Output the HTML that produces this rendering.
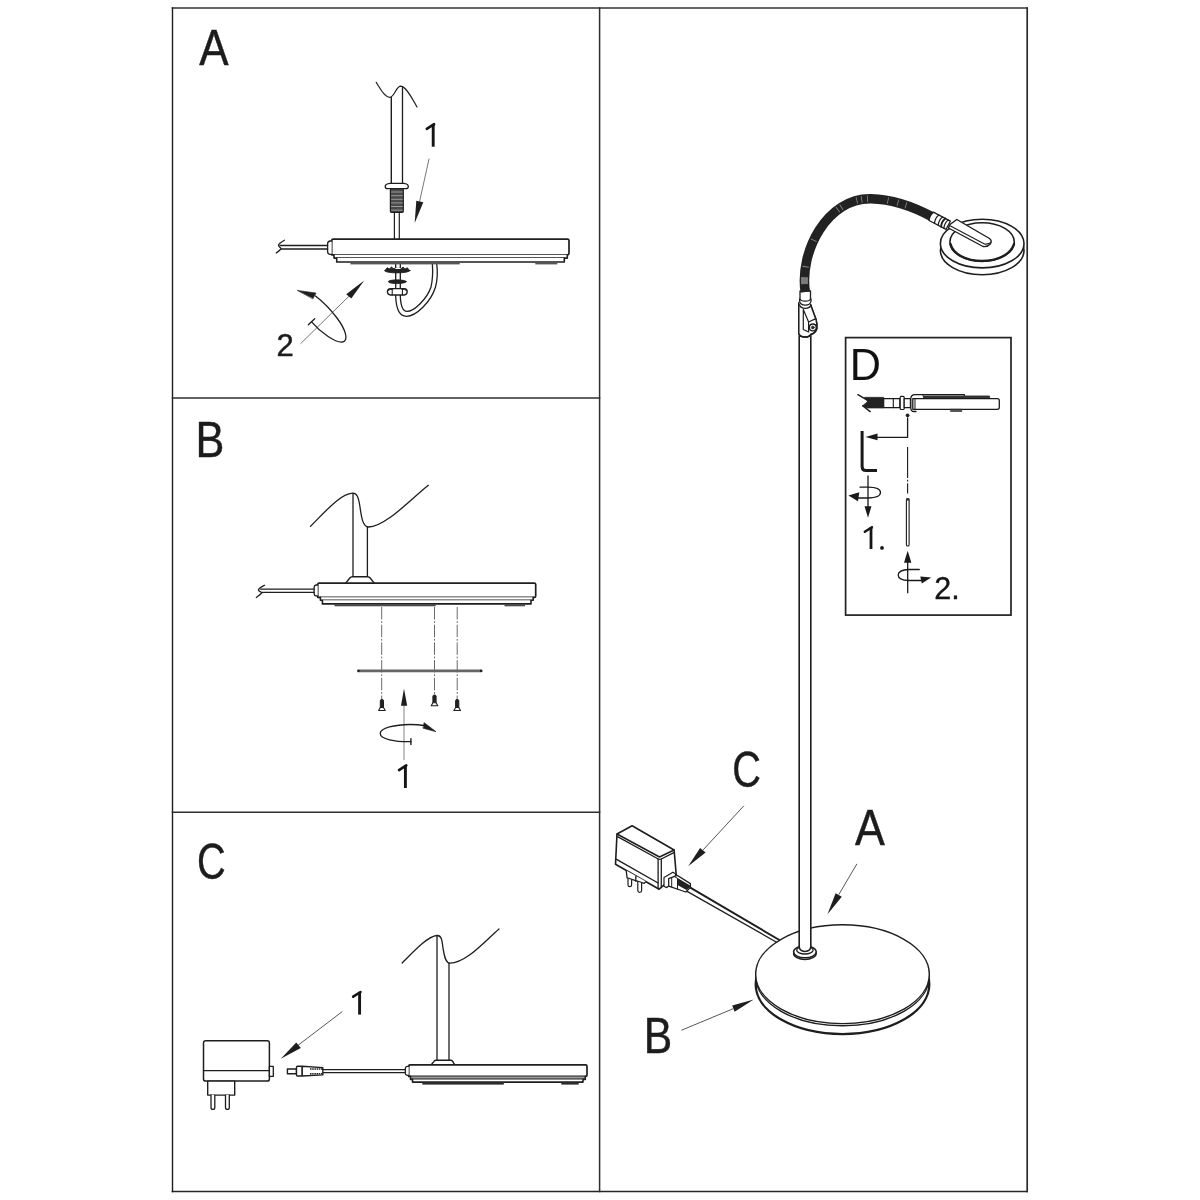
<!DOCTYPE html>
<html>
<head>
<meta charset="utf-8">
<style>
html,body{margin:0;padding:0;background:#fff;width:1200px;height:1200px;overflow:hidden;}
svg{display:block;filter:grayscale(1);}
text{font-family:"Liberation Sans",sans-serif;fill:#1c1c1c;}
</style>
</head>
<body>
<svg width="1200" height="1200" viewBox="0 0 1200 1200">
<rect x="0" y="0" width="1200" height="1200" fill="#fff"/>
<!-- FRAME -->
<g fill="none" stroke-linecap="square">
<line x1="172.5" y1="8" x2="1027.2" y2="8" stroke="#333" stroke-width="1.6"/>
<line x1="172.5" y1="1191.5" x2="1027.2" y2="1191.5" stroke="#262626" stroke-width="1.6"/>
<line x1="172.5" y1="8" x2="172.5" y2="1191.5" stroke="#1e1e1e" stroke-width="1.4"/>
<line x1="1027.2" y1="8" x2="1027.2" y2="1191.5" stroke="#2a2a2a" stroke-width="1.7"/>
<line x1="599.6" y1="8" x2="599.6" y2="1191.5" stroke="#2e2e2e" stroke-width="1.5"/>
<line x1="172.5" y1="397.9" x2="599.6" y2="397.9" stroke="#2e2e2e" stroke-width="1.5"/>
<line x1="172.5" y1="812.2" x2="599.6" y2="812.2" stroke="#2e2e2e" stroke-width="1.5"/>
</g>
<!-- LABELS -->
<g id="labels" stroke="#1c1c1c" stroke-width="0.45">
<text transform="translate(199.2,65.4) scale(0.88,1)" font-size="50">A</text>
<text transform="translate(195.4,456.5) scale(0.864,1)" font-size="50">B</text>
<text transform="translate(197,878.5) scale(0.794,1)" font-size="50">C</text>
<text transform="translate(732.2,787) scale(0.794,1)" font-size="50">C</text>
<text transform="translate(854.9,845) scale(0.894,1)" font-size="50">A</text>
<text transform="translate(643.8,1052.7) scale(0.853,1)" font-size="50">B</text>
</g>
<g id="panelA" stroke="#1e1e1e" fill="none" stroke-linecap="round" stroke-linejoin="round">
<!-- pole -->
<path d="M376.2,82.3 C381,90 385,97.3 389.8,97.3 C394.5,97.3 396,86.2 400.8,86.2 C405.5,86.4 411,96 417,107" stroke-width="1.2"/>
<line x1="391.3" y1="97.3" x2="391.3" y2="183.5" stroke-width="1.4"/>
<line x1="402.5" y1="87" x2="402.5" y2="183.5" stroke-width="1.3"/>
<!-- collar -->
<path d="M390.2,183.3 H403.7 Q408.3,183.8 408.3,186.4 Q408.3,188.7 405.8,188.7 H387.7 Q385.2,188.7 385.2,186.4 Q385.2,183.8 390.2,183.3 Z" fill="#fff" stroke-width="1.3"/>
<!-- thread -->
<rect x="390.4" y="188.7" width="12.9" height="23.6" rx="1" fill="#4a4a4a" stroke-width="1.2"/>
<g stroke="#9a9a9a" stroke-width="1">
<line x1="391.5" y1="192" x2="402.3" y2="192"/>
<line x1="391.5" y1="195.7" x2="402.3" y2="195.7"/>
<line x1="391.5" y1="199.3" x2="402.3" y2="199.3"/>
<line x1="391.5" y1="202.9" x2="402.3" y2="202.9"/>
<line x1="391.5" y1="206.5" x2="402.3" y2="206.5"/>
<line x1="391.5" y1="210.2" x2="402.3" y2="210.2"/>
</g>
<!-- lower rod -->
<line x1="394.4" y1="212.3" x2="394.4" y2="239" stroke-width="1.2"/>
<line x1="399.3" y1="212.3" x2="399.3" y2="239" stroke-width="1.2"/>
<!-- leader 1 -->
<line x1="429" y1="159" x2="419.6" y2="201.5" stroke="#555" stroke-width="0.8"/>
<path d="M416.3,200.7 L423.3,202.3 L414.7,223 Z" fill="#1e1e1e" stroke="none"/>
<!-- base -->
<path d="M331.7,240.6 Q331.7,239.1 333.2,239.1 H567.5 Q569,239.1 569,240.6 V253.3 Q569,254.8 567.5,254.8 H331.7 Z" fill="#fff" stroke-width="1.7"/>
<path d="M331.7,241 H329.8 Q327.6,241.5 327.6,244 V251.5 Q327.6,254 329.8,254.3 H331.7" fill="#fff" stroke-width="1.3"/>
<path d="M334,254.8 V258.1 H567.3 V254.8" fill="#fff" stroke-width="1.6"/>
<path d="M336.7,258.1 V262 H564.3 V258.1" fill="#fff" stroke-width="1.6"/>
<rect x="350.4" y="262" width="109.3" height="2.4" fill="#555" stroke="none"/>
<rect x="535.3" y="262" width="22" height="2.4" fill="#555" stroke="none"/>
<!-- left cable -->
<line x1="280" y1="245.5" x2="327.6" y2="245.5" stroke-width="1.3"/>
<line x1="281.6" y1="249" x2="327.6" y2="249" stroke-width="1.3"/>
<path d="M284.4,240.3 C281.3,242 278.5,243.6 278.5,245.3 C278.5,246.8 280.8,247.8 281.2,248.8 C279.6,250.5 278,251.8 276.2,253" stroke-width="1.3"/>
<!-- under-base rod + cable tube -->
<path d="M395.7,264.6 V296 C396,306 398,316.3 406.5,316.3 C416,316.3 431,302 435.5,287 C437.6,279 437.5,270 436.8,264.6" stroke-width="1.3"/>
<path d="M400.3,264.6 V296 C400.6,304 402.3,311.4 407,311.4 C414,311.4 427,299 431,287 C432.8,279 432.8,270 432.4,264.6" stroke-width="1.3"/>
<!-- washers -->
<ellipse cx="397.3" cy="270.6" rx="12.8" ry="2.3" fill="#222" stroke-width="0.8"/>
<path d="M386,269 l1.5,-1.3 l1.5,1.3 M390,268.4 l1.5,-1.4 l1.5,1.4 M401.5,268.4 l1.5,-1.4 l1.5,1.4 M405.5,269 l1.5,-1.3 l1.5,1.3" fill="#222" stroke-width="0.9"/>
<line x1="395.7" y1="268.5" x2="400.3" y2="268.5" stroke="#fff" stroke-width="1"/>
<ellipse cx="397.3" cy="281.7" rx="9" ry="1.9" fill="#222" stroke-width="0.8"/>
<path d="M390.5,288.6 H404.3 Q407.2,288.8 407.2,291.8 Q407.2,294.8 404.3,295 H390.5 Q387.4,294.8 387.4,291.8 Q387.4,288.8 390.5,288.6 Z" fill="#fff" stroke-width="1.3"/>
<path d="M387.6,290.6 Q390,289.2 393,289 M407,290.6 Q404.6,289.2 401.6,289" stroke-width="1"/>
<line x1="392.2" y1="289" x2="392.2" y2="294.8" stroke-width="1.1"/>
<line x1="402.4" y1="289" x2="402.4" y2="294.8" stroke-width="1.1"/>
<!-- rotation arrow 2 -->
<line x1="300.8" y1="343.5" x2="349" y2="296.2" stroke="#555" stroke-width="0.8"/>
<path d="M346.2,294.2 L351.3,298.4 L364.2,280.4 Z" fill="#1e1e1e" stroke="none"/>
<line x1="308.3" y1="324.7" x2="314.7" y2="318.8" stroke-width="1.3"/>
<path d="M311.6,321.8 C321,333 336,343 342.4,342 C349,341 346,330 337,318 C331,310 324,302.5 315.5,296" stroke-width="1.3"/>
<path d="M297.5,290.4 L316,293 L313,298.6 Z" fill="#1e1e1e" stroke="#1e1e1e" stroke-width="0.6"/>
<!-- numbers -->
<text transform="translate(276.5,355.6)" font-size="31" stroke="#1c1c1c" stroke-width="0.45">2</text>
</g>

<g transform="translate(433.2,146.7)"><path d="M0,0 V-21.6" stroke="#151515" stroke-width="2.9" fill="none"/><path d="M0.9,-22.6 L-6.4,-17.9" stroke="#151515" stroke-width="2.6" stroke-linecap="round" fill="none"/><rect x="-1.45" y="-22.7" width="2.9" height="2" fill="#151515"/></g>
<!--PANEL_A-->
<g id="panelB" stroke="#1e1e1e" fill="none" stroke-linecap="round" stroke-linejoin="round">
<path d="M310.5,526.3 C325,512 340,494 352.5,493.2 C357,493 358.5,497 360,507 C361.5,518 363,527 368.5,527 C385,527 410,500 428.3,485.3" stroke-width="1.3"/>
<line x1="353" y1="493.5" x2="353" y2="577" stroke-width="1.3"/>
<line x1="367.4" y1="527" x2="367.4" y2="577" stroke-width="1.3"/>
<!-- collar -->
<path d="M345.9,582.9 L349.8,578 Q350.8,576.7 352.5,576.7 H367.5 Q369.2,576.7 370.2,578 L374,582.9" fill="#fff" stroke-width="1.4"/>
<!-- base -->
<path d="M317.7,584.5 Q317.7,583.1 319.1,583.1 H534.3 Q535.7,583.1 535.7,584.5 V595.9 Q535.7,597.3 534.3,597.3 H317.7 Z" fill="#fff" stroke-width="1.7"/>
<path d="M317.7,585 H316 Q314.1,585.4 314.1,587.5 V593.5 Q314.1,595.6 316,595.9 H317.7" fill="#fff" stroke-width="1.3"/>
<path d="M320.4,597.3 V600.2 H533.2 V597.3" fill="#fff" stroke-width="1.6"/>
<path d="M322.4,600.2 V603.9 H531 V600.2" fill="#fff" stroke-width="1.6"/>
<rect x="334.5" y="603.9" width="101.2" height="2.4" fill="#4a4a4a" stroke="none"/>
<rect x="504.5" y="603.9" width="20.6" height="2.4" fill="#4a4a4a" stroke="none"/>
<!-- cable -->
<line x1="260.6" y1="589.1" x2="314.1" y2="589.1" stroke-width="1.3"/>
<line x1="262.2" y1="592.3" x2="314.1" y2="592.3" stroke-width="1.3"/>
<path d="M264.5,585.2 C261.5,586.9 258.4,588.5 258.4,590 C258.4,591.3 261.5,592 262,592.8 C260.2,594.5 258.5,596.3 256.3,597.5" stroke-width="1.3"/>
<!-- dashed lines -->
<g stroke="#6a6a6a" stroke-width="1" stroke-linecap="butt" stroke-dasharray="12.5 1.7 1.8 1.7">
<line x1="381.7" y1="607" x2="381.7" y2="700"/>
<line x1="434.5" y1="607" x2="434.5" y2="695.5"/>
<line x1="457.2" y1="607" x2="457.2" y2="700"/>
</g>
<!-- plate -->
<line x1="358.5" y1="670.9" x2="481" y2="670.9" stroke="#666" stroke-width="2.6" stroke-linecap="butt"/>
<circle cx="358.4" cy="670.9" r="1.3" fill="#222" stroke="none"/>
<circle cx="481.2" cy="670.9" r="1.3" fill="#222" stroke="none"/>
<!-- screws -->
<g id="screw" stroke-width="1">
<path d="M380.3,707.5 V700.8 Q380.3,699.5 381.9,699.5 Q383.5,699.5 383.5,700.8 V707.5 Z" fill="#222"/>
<path d="M380.3,707.5 L378.6,710.5 H385.2 L383.5,707.5 Z" fill="#fff" stroke-width="1.1"/>
</g>
<g stroke-width="1">
<path d="M432.9,702.8 V696.3 Q432.9,695 434.5,695 Q436.1,695 436.1,696.3 V702.8 Z" fill="#222"/>
<path d="M432.9,702.8 L431.2,705.8 H437.8 L436.1,702.8 Z" fill="#fff" stroke-width="1.1"/>
<path d="M455.6,707.5 V700.8 Q455.6,699.5 457.2,699.5 Q458.8,699.5 458.8,700.8 V707.5 Z" fill="#222"/>
<path d="M455.6,707.5 L453.9,710.5 H460.5 L458.8,707.5 Z" fill="#fff" stroke-width="1.1"/>
</g>
<!-- up arrow -->
<line x1="404" y1="705" x2="404" y2="760" stroke="#9a9a9a" stroke-width="1.2" stroke-linecap="butt"/>
<path d="M404,688.5 L407.2,705.8 L401,705.8 Z" fill="#1e1e1e" stroke="none"/>
<!-- rotation -->
<path d="M410.9,741.7 C395,742 380.2,739 380.2,733.5 C380.2,728 395,724.6 410,724.5 C416,724.5 420,724.8 424,725.5" stroke-width="1.3"/>
<line x1="410.9" y1="738.3" x2="410.9" y2="745" stroke-width="1.4" stroke-linecap="butt"/>
<path d="M424.3,722.7 L436,731.7 L423.3,728.3 Z" fill="#1e1e1e" stroke="#1e1e1e" stroke-width="0.6"/>
</g>
<g transform="translate(405.4,788)"><path d="M0,0 V-21.6" stroke="#151515" stroke-width="2.9" fill="none"/><path d="M0.9,-22.6 L-6.4,-17.9" stroke="#151515" stroke-width="2.6" stroke-linecap="round" fill="none"/><rect x="-1.45" y="-22.7" width="2.9" height="2" fill="#151515"/></g>

<!--PANEL_B-->
<g id="panelC" stroke="#1e1e1e" fill="none" stroke-linecap="round" stroke-linejoin="round">
<path d="M402.2,963 C414,951 428,936 437,935.5 C441.5,935.3 442,940 443,948 C444.5,958 446,963.2 450,963.2 C466,963 484,942 499,929" stroke-width="1.3"/>
<line x1="437" y1="935.7" x2="437" y2="1060.3" stroke-width="1.3"/>
<line x1="449" y1="963.2" x2="449" y2="1060.3" stroke-width="1.3"/>
<!-- collar -->
<path d="M431.3,1064.8 L434,1061.4 Q434.8,1060.3 436.2,1060.3 H450.5 Q451.9,1060.3 452.7,1061.4 L454.7,1064.8" fill="#fff" stroke-width="1.4"/>
<!-- base -->
<path d="M408.7,1066.3 Q408.7,1064.9 410.1,1064.9 H585.6 Q587,1064.9 587,1066.3 V1075 Q587,1076.4 585.6,1076.4 H408.7 Z" fill="#fff" stroke-width="1.7"/>
<path d="M408.7,1066.3 H407.2 Q405.3,1066.8 405.3,1068.6 V1073.3 Q405.3,1075.1 407.2,1075.3 H408.7" fill="#fff" stroke-width="1.3"/>
<path d="M410.5,1076.4 V1079.4 H585.3 V1076.4" fill="#9a9a9a" stroke-width="1.6"/>
<path d="M412.5,1079.4 V1082.1 H583 V1079.4" fill="#fff" stroke-width="1.6"/>
<rect x="422.3" y="1082" width="81.5" height="2.6" fill="#2a2a2a" stroke="none"/>
<rect x="561.3" y="1082" width="17.4" height="2.6" fill="#2a2a2a" stroke="none"/>
<!-- cable -->
<line x1="322.8" y1="1069.7" x2="405.3" y2="1069.7" stroke-width="1.3"/>
<line x1="322.8" y1="1072.6" x2="405.3" y2="1072.6" stroke-width="1.3"/>
<!-- dc plug -->
<rect x="287.4" y="1069" width="9.1" height="4.8" fill="#fff" stroke-width="1.4"/>
<rect x="296.5" y="1066.3" width="5.7" height="9.7" rx="1" fill="#fff" stroke-width="1.4"/>
<path d="M302.2,1066.3 L322.8,1067.6 V1074.9 L302.2,1076 Z" fill="#fff" stroke-width="1.4"/>
<line x1="310" y1="1069" x2="322.5" y2="1069" stroke-width="1.6" stroke-dasharray="1.5 0.7" stroke-linecap="butt"/>
<line x1="310" y1="1073.7" x2="322.5" y2="1073.7" stroke-width="1.6" stroke-dasharray="1.5 0.7" stroke-linecap="butt"/>
<!-- adapter -->
<rect x="203.5" y="1040.8" width="65.9" height="40.3" rx="2.2" fill="#fff" stroke-width="1.5"/>
<line x1="203.5" y1="1070.6" x2="269.4" y2="1070.6" stroke-width="1.4"/>
<rect x="269.4" y="1066.4" width="3.9" height="10" fill="#fff" stroke-width="1.3"/>
<rect x="207.7" y="1081.1" width="27" height="14" fill="#fff" stroke-width="1.4"/>
<path d="M211,1095.1 V1107.4 Q211,1109.3 212.9,1109.3 Q214.8,1109.3 214.8,1107.4 V1095.1" fill="#fff" stroke-width="1.3"/>
<path d="M225.5,1095.1 V1107.4 Q225.5,1109.3 227.4,1109.3 Q229.3,1109.3 229.3,1107.4 V1095.1" fill="#fff" stroke-width="1.3"/>
<!-- leader -->
<line x1="342.1" y1="1011.7" x2="298" y2="1045.3" stroke="#444" stroke-width="0.9"/>
<path d="M296.25,1042.5 L300.8,1047.9 L280.8,1058.75 Z" fill="#1e1e1e" stroke="none"/>
</g>
<g transform="translate(359.6,1014.6)"><path d="M0,0 V-21.6" stroke="#151515" stroke-width="2.9" fill="none"/><path d="M0.9,-22.6 L-6.4,-17.9" stroke="#151515" stroke-width="2.6" stroke-linecap="round" fill="none"/><rect x="-1.45" y="-22.7" width="2.9" height="2" fill="#151515"/></g>

<!--PANEL_C-->
<g id="panelR" stroke="#1e1e1e" fill="none" stroke-linecap="round" stroke-linejoin="round">
<!-- cable adapter->base -->
<line x1="690.3" y1="887.6" x2="779" y2="939.8" stroke-width="1.9"/>
<line x1="687.1" y1="891.4" x2="776.6" y2="942.2" stroke-width="1.3"/>
<!-- base disc -->
<ellipse cx="842.5" cy="984.6" rx="86.8" ry="49.5" fill="#fff" stroke-width="2.3"/>
<ellipse cx="842.5" cy="976.4" rx="86.8" ry="49.4" fill="#fff" stroke-width="1.4"/>
<ellipse cx="842.5" cy="974.2" rx="86.8" ry="49.4" fill="#fff" stroke-width="1.4"/>
<!-- collar -->
<ellipse cx="804.9" cy="953.5" rx="11.3" ry="6" fill="#fff" stroke-width="1.4"/>
<ellipse cx="804.9" cy="951.8" rx="11.3" ry="6" fill="#fff" stroke-width="1.5"/>
<ellipse cx="804.9" cy="950.2" rx="8.2" ry="3.8" fill="#fff" stroke-width="1.3"/>
<!-- pole -->
<path d="M799.2,337 V946 Q799.2,951.4 805,951.4 Q810.8,951.4 810.8,946 V337" fill="#fff" stroke="none"/>
<line x1="799.2" y1="336" x2="799.2" y2="946" stroke-width="1.6"/>
<line x1="810.8" y1="334.5" x2="810.8" y2="946" stroke-width="1.6"/>
<path d="M799.2,946 Q799.2,951.4 805,951.4 Q810.8,951.4 810.8,946" stroke-width="1.5"/>
<!-- joint -->
<path d="M798.8,303 V333.5 Q799.5,337 805,337 Q809.5,337 810.8,334.3" fill="#fff" stroke-width="1.5"/>
<path d="M810.7,305 L816,319.5 Q817.3,324 816.8,328.5 Q815.8,333 810.8,334.5" fill="#fff" stroke-width="1.5"/>
<path d="M798.8,303 V334 L810.8,334.5 L816.8,328.5 L816,319.5 L810.7,305 Z" fill="#fff" stroke="none"/>
<path d="M798.8,303 V333.5 Q799.5,337 805,337 Q809.5,337 810.8,334.3" stroke-width="1.5"/>
<path d="M810.7,305 L816,319.5 Q817.3,324 816.8,328.5 Q815.8,333 810.8,334.5" stroke-width="1.5"/>
<path d="M803.3,309.5 V329.5 L808.6,332 M803.3,309.5 L808.6,322 V332 M808.6,322 L815.8,318.6" stroke-width="1.2"/>
<circle cx="812.8" cy="327.4" r="3.4" fill="#fff" stroke-width="1.3"/>
<circle cx="812.8" cy="327.4" r="1.5" fill="#333" stroke-width="0.6"/>
<!-- ferrules -->
<path d="M799.6,301 Q800,305 805.3,305.2 Q810.5,305 811,301 V298.8 H799.6 Z" fill="#fff" stroke-width="1.3"/>
<path d="M800,298.5 Q800.5,301.2 805.2,301.2 Q810,301.2 810.5,298.5 V291 H800 Z" fill="#fff" stroke-width="1.3"/>
<path d="M799.6,305 Q800.5,308.3 805.3,308.3 Q810,308.3 810.9,305" stroke-width="1.3"/>
<!-- head disc -->
<ellipse cx="982.2" cy="250.4" rx="41.8" ry="24.3" fill="#fff" stroke-width="1.6"/>
<ellipse cx="982.2" cy="243.6" rx="41.8" ry="24.3" fill="#fff" stroke-width="1.6"/>
<ellipse cx="982.1" cy="241.9" rx="32.2" ry="19.2" fill="#fff" stroke-width="1.6"/>
<path d="M950.5,244 C953,254 966,261 982,261 C998,261 1011,254 1014,244" stroke-width="2.4"/>
<!-- gooseneck -->
<path d="M805.3,292 C799.1,251.6 827.3,197.7 871,198.75 C893,199.3 914,207 932.5,217" stroke="#222" stroke-width="9.6" stroke-linecap="butt"/>
<path d="M805.3,292 C799.1,251.6 827.3,197.7 871,198.75 C893,199.3 914,207 932.5,217" stroke="#7a7a7a" stroke-width="7" stroke-linecap="butt" stroke-dasharray="0 8 7 300"/>
<path d="M805.3,292 C799.1,251.6 827.3,197.7 871,198.75 C893,199.3 914,207 932.5,217" stroke="#8a8a8a" stroke-width="6.5" stroke-linecap="butt" stroke-dasharray="0 25 0.8 26.9 0.8 38.5 0.8 3.5 0.8 16.2 0.8 4.1 0.8 5.1 0.8 19.7 0.8 9.4 0.8 7.6 0.8 100"/>
<!-- head ferrule -->
<g transform="translate(930.5,216) rotate(27.5)">
<path d="M0.8,-4.7 H20 V4.7 H0.8 Q-1.2,0 0.8,-4.7 Z" fill="#fff" stroke-width="1.3"/>
<path d="M7,-4.7 Q4.8,0 7,4.7 M11.2,-4.7 Q9,0 11.2,4.7 M17.6,-4.7 Q15.4,0 17.6,4.7" stroke-width="1.2"/>
<path d="M14.4,-4.7 Q12.2,0 14.4,4.7" stroke-width="1.9"/>
</g>
<!-- arm -->
<path d="M956.8,219.5 L989.5,238.5 Q992.5,240.8 990.2,244 Q987.5,247.2 983,246.5 L948.5,228 L950,224.5 Z" fill="#fff" stroke-width="1.4"/>
<path d="M950.5,226 L984.5,244 Q987,244.6 989.8,243" stroke-width="1.1"/>
<!-- adapter -->
<path d="M617,834 L632.1,825.8 L674.1,850 L676.2,874.5 L659.2,889.2 L615.5,864.2 Z" fill="#fff" stroke-width="1.6"/>
<path d="M617,834 L659.5,857 L674.1,850" stroke-width="1.5"/>
<path d="M617.5,836.6 L658.3,859 Q659.8,859.6 661.3,859 L673.8,852.6" stroke-width="1.3"/>
<path d="M658.1,859 V888.8 M661.3,859 V887" stroke-width="1.3"/>
<path d="M616.6,859.3 L658.1,883" stroke-width="1.4"/>
<path d="M626.2,870.6 L627.1,877.9 L644.2,883.3 L646,881.6" fill="#fff" stroke-width="1.3"/>
<line x1="635.8" y1="876.3" x2="635.8" y2="881.2" stroke-width="1.3"/>
<path d="M628,879 V885 Q628,886.7 629.8,886.7 Q631.6,886.7 631.6,885 V880" fill="#fff" stroke-width="1.2"/>
<path d="M637.8,882 V890.6 Q637.8,892.4 639.7,892.4 Q641.6,892.4 641.6,890.6 V883" fill="#fff" stroke-width="1.2"/>
<!-- connector -->
<path d="M664,877.4 L672.9,872.2 L675.5,873.8 L675.5,882.5 L666.2,887.6 L664,886.2 Z" fill="#fff" stroke-width="1.2"/>
<path d="M668.7,878.7 L677.1,875.3 L690.4,883.6 L690.4,887.4 L685.8,892 L668.7,886.2 Z" fill="#fff" stroke-width="1.3"/>
<path d="M677.5,878 L690.2,885.6 L690.2,887.2 L686.5,890 L677.5,885 Z" fill="#222" stroke="none"/>
<path d="M671.7,877.8 V887 M674.3,876.5 L677.5,878.3 V889" stroke-width="1"/>
<!-- arrows -->
<g stroke="#444" stroke-width="0.9">
<line x1="743.6" y1="806.1" x2="703.4" y2="849.6"/>
<line x1="856.7" y1="864.2" x2="839" y2="894.3"/>
<line x1="681.8" y1="1030.1" x2="733" y2="1008.8"/>
</g>
<g fill="#1e1e1e" stroke="none">
<path d="M700.1,848.1 L705.6,852.5 L688.2,866.2 Z"/>
<path d="M835.6,893.2 L841.8,896.7 L827.5,914.3 Z"/>
<path d="M732.2,1005.4 L734.6,1011.75 L753.8,999.4 Z"/>
</g>
</g>

<!--PANEL_R-->
<g id="panelD" stroke="#1a1a1a" fill="none" stroke-linecap="round" stroke-linejoin="round">
<rect x="845.6" y="337.6" width="165.4" height="277.5" fill="#fff" stroke="#222" stroke-width="1.7" stroke-linejoin="miter"/>
<!-- side view of head -->
<path d="M864.5,397.3 H883.7 V408.1 H866.7 L862.6,405.8 L867.3,401.8 Z" fill="#222" stroke="#222" stroke-width="0.6"/>
<path d="M857.9,394.7 L866,399.4 M862.6,405.8 L870.2,411.6" stroke-width="1.4"/>
<rect x="883.7" y="398.6" width="16.1" height="9" fill="#fff" stroke-width="1.2"/>
<line x1="893.3" y1="398.6" x2="893.3" y2="407.6" stroke-width="1.1"/>
<rect x="900.2" y="396.4" width="4" height="13.1" rx="1" fill="#fff" stroke-width="1.2"/>
<rect x="904.2" y="398.6" width="6.2" height="9" fill="#fff" stroke-width="1.2"/>
<path d="M964.4,396 V394.7 H915 Q910.8,394.7 910.8,399 V408 Q910.8,411.5 914,411.5 H916" fill="#fff" stroke-width="1.3"/>
<path d="M923,394.7 V396.4 H989.6 V398.6" fill="none" stroke-width="0.8"/>
<rect x="923" y="395.6" width="66.6" height="3" fill="#333" stroke="none"/>
<path d="M912.8,398.6 H997.3 Q999.3,398.6 999.3,400.6 V407.3 Q999.3,409.3 997.3,409.3 H912.8 Z" fill="#fff" stroke-width="1.3"/>
<path d="M915,398.6 V409.3" stroke-width="1"/>
<rect x="950.8" y="409.3" width="11" height="2.2" fill="#555" stroke="#222" stroke-width="0.6"/>
<!-- dot & path to allen key -->
<circle cx="907.6" cy="415.3" r="1.9" fill="#222" stroke="none"/>
<path d="M907.6,418 V437.3 H877" stroke-width="1.3"/>
<path d="M865.5,436.9 L877.5,433.4 L877.5,440.3 Z" fill="#1a1a1a" stroke="none"/>
<!-- allen key -->
<path d="M862.1,431 V466.5 Q862.1,470.5 866,470.5 H877" stroke-width="3" stroke-linecap="butt" stroke-linejoin="round"/>
<!-- dash-dot line -->
<line x1="907.6" y1="447" x2="907.6" y2="493.5" stroke-width="1.1" stroke-linecap="butt" stroke-dasharray="31 1.8 1.6 1.8"/>
<!-- rod -->
<rect x="906.4" y="498.6" width="2.7" height="47.4" rx="1.3" fill="#fff" stroke-width="1.1"/>
<rect x="906" y="498.6" width="3.5" height="2" fill="#333" stroke="none"/>
<!-- down arrow 1 + rotation -->
<line x1="868" y1="475.5" x2="868" y2="507" stroke-width="1.3" stroke-linecap="butt"/>
<path d="M864.5,506.2 L871.5,506.2 L868,517.7 Z" fill="#1a1a1a" stroke="none"/>
<path d="M860,487.2 H868 Q880.5,487.4 880.5,492.6 Q880.5,497.8 868,498 H858" stroke-width="1.3"/>
<path d="M848.4,495.6 L859.3,492.2 L858,501.2 Z" fill="#1a1a1a" stroke="none"/>
<!-- up arrow 2 + rotation -->
<line x1="907.7" y1="562" x2="907.7" y2="593.3" stroke-width="1.3" stroke-linecap="butt"/>
<path d="M907.7,550.7 L911.4,562.8 L904,562.8 Z" fill="#1a1a1a" stroke="none"/>
<path d="M919.3,569.5 H909 Q898.2,570 898.2,575 Q898.2,580.3 909,580.5 H921.5" stroke-width="1.3"/>
<path d="M931.2,577.6 L920.3,576.6 L921.8,583.4 Z" fill="#1a1a1a" stroke="none"/>
</g>
<g transform="translate(871,549) scale(0.965)"><path d="M0,0 V-21.6" stroke="#151515" stroke-width="2.9" fill="none"/><path d="M0.9,-22.6 L-6.4,-17.9" stroke="#151515" stroke-width="2.6" stroke-linecap="round" fill="none"/><rect x="-1.45" y="-22.7" width="2.9" height="2" fill="#151515"/></g>
<circle cx="882" cy="547.9" r="1.9" fill="#151515"/>
<text transform="translate(934.2,599.1)" font-size="30.5" style="fill:#151515" stroke="#151515" stroke-width="0.35">2.</text>

<text transform="translate(849.8,379.6) scale(0.96,1)" font-size="45" style="fill:#111">D</text>
<!--PANEL_D-->
</svg>
</body>
</html>
